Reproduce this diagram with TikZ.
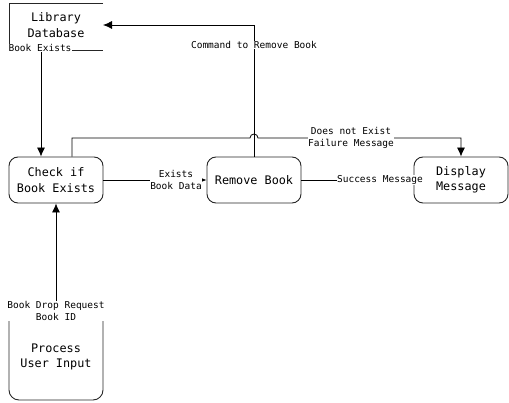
\documentclass[tikz,border=0pt]{standalone}
\usepackage{fontspec}
\setmainfont{DejaVu Sans Mono}
\usetikzlibrary{arrows.meta}
\begin{document}
\begin{tikzpicture}[x=1pt,y=-1pt,
  proc/.style={draw=black!85, line width=0.9pt, rounded corners=9pt, minimum width=94pt, minimum height=46pt, align=center, inner sep=1pt, font=\fontsize{11.8}{15.5}\selectfont},
  plain/.style={align=center, inner sep=1pt, font=\fontsize{11.8}{15.5}\selectfont},
  lbl/.style={fill=white, align=center, inner sep=0.5pt, font=\fontsize{9.5}{12}\selectfont},
  flow/.style={draw=black, line width=0.8pt, -{Latex[length=9pt,width=8pt]}},
  storeline/.style={draw=black!85, line width=0.9pt}]
\useasboundingbox (0,0) rectangle (509,403);
% nodes
\node[proc] (check) at (56,180) {Check if\\Book Exists};
\node[proc] (remove) at (254,180) {Remove Book};
\node[proc] (display) at (461,180) {Display\\Message};
% library data store
\draw[storeline] (103,3) -- (9,3) -- (9,50) -- (103,50);
\node[plain] (lib) at (56,25) {Library\\Database};
\coordinate (libright) at (103,25);
\coordinate (libbottom) at (41,50);
% process user input (open top)
\draw[storeline] (9,318) -- (9,390) arc (180:90:10) -- (93,400) arc (90:0:10) -- (103,318);
\node[plain] (proc) at (56,357) {Process\\User Input};
\coordinate (proctop) at (56,318);
% connectors
\draw[flow] (libbottom) -- (check.north -| libbottom);
\draw[flow] (remove.north) -- (254,25) -- (libright);
\draw[flow] (proctop) -- (check.south);
\draw[flow] (check.east) -- (remove.west);
\draw[flow] (remove.east) -- (display.west);
\draw[flow] (check.north -| 72,0) -- (72,138) -- (250,138) arc (180:360:4) -- (461,138) -- (display.north);
% labels
\node[lbl] (lbe) at (40,48) {Book Exists};
\node[lbl] (lcmd) at (254,45) {Command to Remove Book};
\node[lbl] (lfail) at (351,138) {Does not Exist\\Failure Message};
\node[lbl] (lexists) at (176,180) {Exists\\Book Data};
\node[lbl] (lsucc) at (380,180) {Success Message};
\node[lbl] (ldrop) at (56,311) {Book Drop Request\\Book ID};
\end{tikzpicture}
\end{document}
